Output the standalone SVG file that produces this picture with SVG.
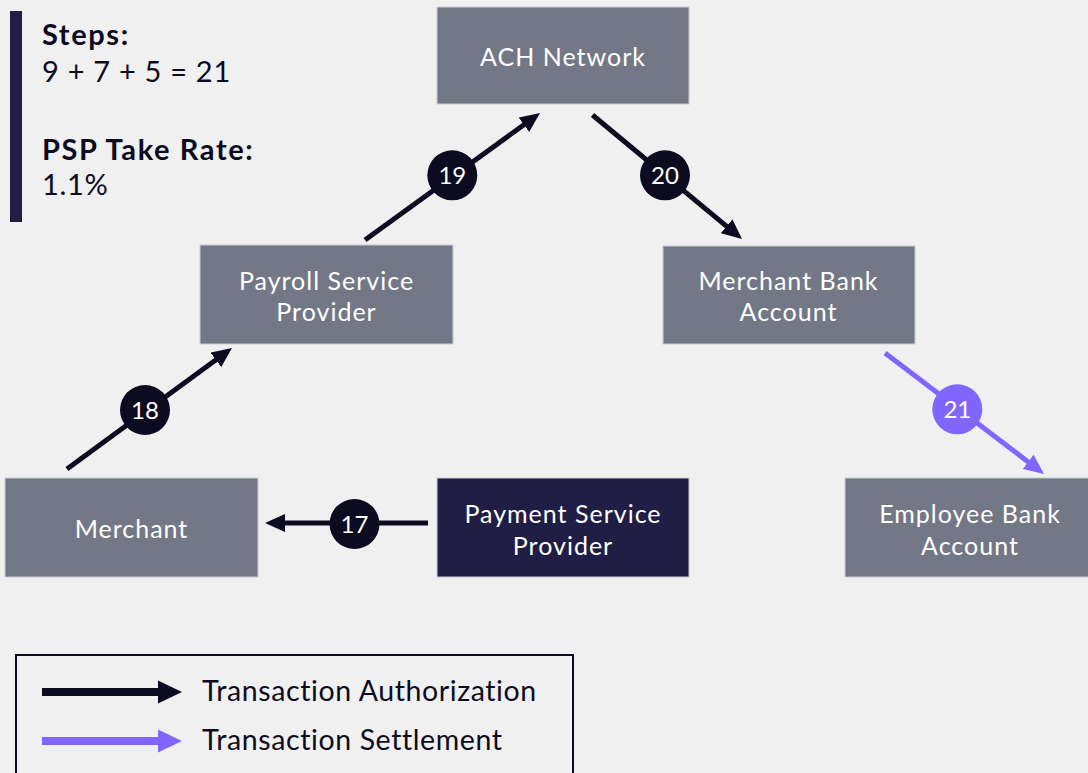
<svg xmlns="http://www.w3.org/2000/svg" width="1088" height="773" viewBox="0 0 1088 773">
<style>
.box{fill:#737886;stroke:#c9cbd2;stroke-width:1}
.dark{fill:#201e45;stroke:#c9cbd2;stroke-width:1}
.bt{font-family:Lato,"Noto Sans",sans-serif;font-size:25px;letter-spacing:1px;fill:#ffffff;text-anchor:middle}
.ln{stroke:#0c0b20;stroke-width:5;fill:none}
.lp{stroke:#8066ff;stroke-width:5;fill:none}
.cd{fill:#0c0b20}
.cp{fill:#8066ff}
.num{font-family:Lato,"Noto Sans",sans-serif;font-size:24px;fill:#ffffff;text-anchor:middle}
.side{font-family:Lato,"Noto Sans",sans-serif;font-size:29px;letter-spacing:0.7px;fill:#0c0b20}
.b{font-weight:bold;letter-spacing:1.6px}
.lg{font-family:Lato,"Noto Sans",sans-serif;font-size:28.5px;letter-spacing:0.6px;fill:#0c0b20}
</style>
<defs>
<marker id="ah" viewBox="0 0 20 18" markerWidth="20" markerHeight="18" refX="4" refY="9" orient="auto" markerUnits="userSpaceOnUse"><path d="M0,0 L20,9 L0,18 z" fill="#0c0b20"/></marker>
<marker id="ahp" viewBox="0 0 20 18" markerWidth="20" markerHeight="18" refX="4" refY="9" orient="auto" markerUnits="userSpaceOnUse"><path d="M0,0 L20,9 L0,18 z" fill="#8066ff"/></marker>
</defs>
<rect width="1088" height="773" fill="#f0f0f0"/>

<g id="info">
<rect x="10" y="11" width="12" height="211" fill="#201e45"/>
<text class="side b" x="42" y="45">Steps:</text>
<text class="side" x="42" y="82">9 + 7 + 5 = 21</text>
<text class="side b" x="42" y="160">PSP Take Rate:</text>
<text class="side" x="42" y="195">1.1%</text>
</g>

<g id="ach"><rect class="box" x="437" y="7" width="252" height="97"/><text class="bt" x="563" y="66">ACH Network</text></g>
<g id="payroll"><rect class="box" x="200" y="245" width="253" height="99"/><text class="bt" x="326.5" y="290">Payroll Service</text><text class="bt" x="326.5" y="321">Provider</text></g>
<g id="merchantbank"><rect class="box" x="663" y="246" width="252" height="98"/><text class="bt" x="788.5" y="290">Merchant Bank</text><text class="bt" x="788.5" y="321">Account</text></g>
<g id="merchant"><rect class="box" x="5" y="478" width="253" height="99"/><text class="bt" x="131.5" y="538">Merchant</text></g>
<g id="psp"><rect class="dark" x="437" y="478" width="252" height="99"/><text class="bt" x="563" y="523">Payment Service</text><text class="bt" x="563" y="555">Provider</text></g>
<g id="employee"><rect class="box" x="845" y="478" width="250" height="99"/><text class="bt" x="970" y="523">Employee Bank</text><text class="bt" x="970" y="555">Account</text></g>

<g id="connectors">
<line class="ln" x1="428" y1="523" x2="281" y2="523" marker-end="url(#ah)"/>
<circle class="cd" cx="354.5" cy="524" r="25"/><text class="num" x="354.5" y="532.5">17</text>
<line class="ln" x1="67" y1="469" x2="219.1" y2="357.5" marker-end="url(#ah)"/>
<circle class="cd" cx="145" cy="410" r="25"/><text class="num" x="145" y="418.5">18</text>
<line class="ln" x1="365" y1="240" x2="527.1" y2="122.4" marker-end="url(#ah)"/>
<circle class="cd" cx="452.3" cy="175.3" r="25"/><text class="num" x="452.3" y="183.8">19</text>
<line class="ln" x1="592.5" y1="115" x2="729.7" y2="228.8" marker-end="url(#ah)"/>
<circle class="cd" cx="665" cy="175.3" r="25"/><text class="num" x="665" y="183.8">20</text>
<line class="lp" x1="885" y1="353" x2="1031.3" y2="464.3" marker-end="url(#ahp)"/>
<circle class="cp" cx="957.3" cy="409.3" r="25"/><text class="num" x="957.3" y="417.8">21</text>
</g>

<g id="legend">
<rect x="16" y="655" width="557" height="130" fill="none" stroke="#0c0b20" stroke-width="2"/>
<line x1="42" y1="692" x2="160" y2="692" stroke="#0c0b20" stroke-width="8"/>
<path d="M158,680.5 L182,692 L158,703.5 z" fill="#0c0b20"/>
<line x1="42" y1="741" x2="160" y2="741" stroke="#8066ff" stroke-width="8"/>
<path d="M158,729.5 L182,741 L158,752.5 z" fill="#8066ff"/>
<text class="lg" x="202" y="701">Transaction Authorization</text>
<text class="lg" x="202" y="750">Transaction Settlement</text>
</g>
</svg>
